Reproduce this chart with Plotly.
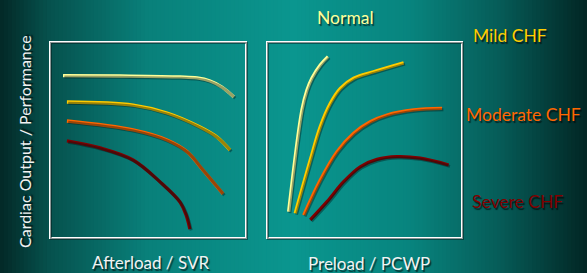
import plotly.graph_objects as go

W, H = 587, 273

# ---- data (arbitrary 0-100 units inside each panel) ----
series_names = ["Normal", "Mild CHF", "Moderate CHF", "Severe CHF"]
series_colors = ["#FFFF99", "#FFCC00", "#FF6600", "#800000"]

# Afterload / SVR panel
after_normal_x = [6.2, 35.6, 66.5, 75.3, 82.0, 88.1, 94.3]
after_normal_y = [83.2, 83.0, 82.5, 82.0, 80.4, 77.3, 72.2]
after_mild_x = [8.2, 42.3, 59.8, 76.8, 85.6, 92.3]
after_mild_y = [69.6, 68.0, 63.9, 56.7, 51.5, 44.8]
after_mod_x = [8.2, 42.3, 59.8, 70.1, 77.5, 88.7]
after_mod_y = [59.8, 55.2, 50.0, 44.0, 35.5, 22.2]
after_sev_x = [8.2, 25.3, 42.3, 56.2, 66.5, 69.6, 71.6]
after_sev_y = [49.5, 45.9, 39.7, 28.4, 18.0, 11.5, 4.1]

# Preload / PCWP panel
pre_normal_x = [10.7, 17.6, 20.2, 22.8, 27.1, 31.1]
pre_normal_y = [13.0, 65.5, 75.8, 82.0, 88.7, 93.0]
pre_mild_x = [14.1, 21.9, 27.1, 32.3, 37.5, 44.4, 54.7, 70.3]
pre_mild_y = [12.2, 39.7, 56.9, 68.9, 76.6, 81.8, 85.2, 89.8]
pre_mod_x = [18.5, 27.1, 35.8, 44.4, 53.0, 61.7, 75.5, 90.2]
pre_mod_y = [11.3, 29.4, 44.0, 53.5, 59.4, 62.9, 65.5, 66.3]
pre_sev_x = [21.9, 30.6, 39.2, 47.8, 56.5, 66.8, 78.9, 93.6]
pre_sev_y = [8.8, 18.2, 28.5, 36.2, 40.0, 41.4, 40.6, 37.1]

x_titles = ["Afterload / SVR", "Preload / PCWP"]
y_title = "Cardiac Output / Performance"

after_series = [(after_normal_x, after_normal_y), (after_mild_x, after_mild_y),
                (after_mod_x, after_mod_y), (after_sev_x, after_sev_y)]
pre_series = [(pre_normal_x, pre_normal_y), (pre_mild_x, pre_mild_y),
              (pre_mod_x, pre_mod_y), (pre_sev_x, pre_sev_y)]

# ---- layout geometry (pixels) ----
L1, R1 = 51, 245
L2, R2 = 268, 461
TOP, BOT = 43, 237
SH = 1.3  # shadow offset px


def xd(a, b, off=0):
    return [(a + off) / W, (b + off) / W]


def yd(top, bot, off=0):
    return [(H - bot - off) / H, (H - top - off) / H]


fig = go.Figure()

for ser, xa, ya in [(after_series, "x3", "y3"), (pre_series, "x4", "y4")]:
    for (x, y) in ser:
        fig.add_trace(go.Scatter(x=x, y=y, mode="lines", xaxis=xa, yaxis=ya,
                                 line=dict(color="rgba(0,20,20,0.4)", width=3, shape="spline", smoothing=1.0),
                                 showlegend=False, hoverinfo="skip"))
for ser, xa, ya in [(after_series, "x", "y"), (pre_series, "x2", "y2")]:
    for (x, y), c, n in zip(ser, series_colors, series_names):
        fig.add_trace(go.Scatter(x=x, y=y, mode="lines", xaxis=xa, yaxis=ya, name=n,
                                 line=dict(color=c, width=3.3, shape="spline", smoothing=1.0),
                                 showlegend=False))

ax_common = dict(range=[0, 100], showgrid=False, zeroline=False, showticklabels=False,
                 ticks="", showline=True, mirror=True, fixedrange=True)
main_line = dict(linecolor="white", linewidth=2)
shadow_line = dict(linecolor="rgba(0,20,20,0.45)", linewidth=2)

fig.update_layout(
    width=W, height=H,
    margin=dict(l=0, r=0, t=0, b=0),
    paper_bgcolor="#0a8a84",
    plot_bgcolor="rgba(0,0,0,0)",
    xaxis3=dict(domain=xd(L1, R1, SH), anchor="y3", **ax_common, **shadow_line),
    yaxis3=dict(domain=yd(TOP, BOT, SH), anchor="x3", **ax_common, **shadow_line),
    xaxis4=dict(domain=xd(L2, R2, SH), anchor="y4", **ax_common, **shadow_line),
    yaxis4=dict(domain=yd(TOP, BOT, SH), anchor="x4", **ax_common, **shadow_line),
    xaxis=dict(domain=xd(L1, R1), anchor="y", **ax_common, **main_line),
    yaxis=dict(domain=yd(TOP, BOT), anchor="x", **ax_common, **main_line),
    xaxis2=dict(domain=xd(L2, R2), anchor="y2", **ax_common, **main_line),
    yaxis2=dict(domain=yd(TOP, BOT), anchor="x2", **ax_common, **main_line),
)

# ---- background horizontal gradient (strips) ----
stops = [(0.0, (3, 40, 38)), (0.08, (6, 80, 76)), (0.25, (9, 128, 122)), (0.5, (10, 150, 143)),
         (0.7, (8, 132, 126)), (0.85, (6, 92, 88)), (1.0, (2, 38, 36))]


def col(t):
    for (t0, c0), (t1, c1) in zip(stops[:-1], stops[1:]):
        if t0 <= t <= t1:
            f = (t - t0) / (t1 - t0)
            return "rgb(%d,%d,%d)" % tuple(round(a + (b - a) * f) for a, b in zip(c0, c1))
    return "rgb(%d,%d,%d)" % stops[-1][1]


N = 150
shapes = []
for i in range(N):
    shapes.append(dict(type="rect", xref="paper", yref="paper", x0=i / N, x1=(i + 1.2) / N,
                       y0=0, y1=1, line=dict(width=0), fillcolor=col((i + 0.5) / N), layer="below"))
fig.update_layout(shapes=shapes)

FONT = "Lato"
shadow = "1.5px 1.5px 1px rgba(0,0,0,0.6)"


def ann(text, cx, cy, color, size=16, angle=0):
    fig.add_annotation(text=text, x=cx / W, y=1 - cy / H, xref="paper", yref="paper",
                       showarrow=False, xanchor="center", yanchor="middle", textangle=angle,
                       font=dict(family=FONT, size=size, color=color, shadow=shadow))


label_pos = [(345, 17), (510, 36), (523, 114), (517, 201)]
for n, c, (px, py) in zip(series_names, series_colors, label_pos):
    ann(n, px, py, c, size=17.5)

ann(x_titles[0], 150, 262, "#F2F2F2", size=17)
ann(x_titles[1], 369, 263, "#F2F2F2", size=17)
ann(y_title, 24, 142, "#F2F2F2", size=16, angle=-90)

fig.write_html("out.html", config={"displayModeBar": False, "staticPlot": True},
               post_script="document.body.style.margin='0';document.body.style.padding='0';"
                           "document.documentElement.style.overflow='hidden';")
